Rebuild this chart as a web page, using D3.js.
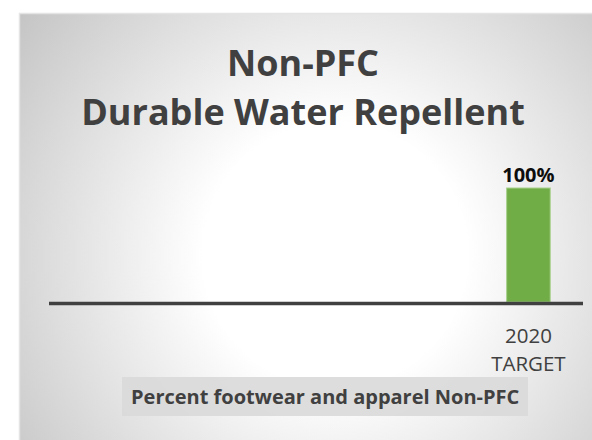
<!DOCTYPE html>
<html>
<head>
<meta charset="utf-8">
<script src="https://cdn.jsdelivr.net/npm/d3@7"></script>
<style>
  html, body { margin: 0; padding: 0; background: #fff; }
  svg { display: block; font-family: "Open Sans", "Noto Sans", sans-serif; }
</style>
</head>
<body>
<svg id="chart"></svg>
<script>
// data
const categories = ['2015', '2016', '2017', '2018', '2019', '2020 TARGET'];
const values     = [null, null, null, null, null, 100];
const tickLabels = [[], [], [], [], [], ['2020', 'TARGET']];
const titleLines = ['Non-PFC', 'Durable Water Repellent'];
const legendText = 'Percent footwear and apparel Non-PFC';

const width = 592, height = 440;

const svg = d3.select('#chart')
  .attr('width', width)
  .attr('height', height);

// background panel with radial gradient
const defs = svg.append('defs');
const grad = defs.append('radialGradient')
  .attr('id', 'bg')
  .attr('gradientUnits', 'userSpaceOnUse')
  .attr('cx', 335).attr('cy', 255).attr('r', 400);
grad.append('stop').attr('offset', '0').attr('stop-color', '#ffffff');
grad.append('stop').attr('offset', '0.33').attr('stop-color', '#ffffff');
grad.append('stop').attr('offset', '1').attr('stop-color', '#c4c4c4');

svg.append('rect')
  .attr('x', 19).attr('y', 13)
  .attr('width', width).attr('height', height)
  .attr('fill', 'url(#bg)');

// thin edge lines along top and left of panel
svg.append('path')
  .attr('d', `M19.5,${height}V13.5H${width}`)
  .attr('fill', 'none')
  .attr('stroke', '#e4e4e4')
  .attr('stroke-width', 1.5);

// title
svg.append('g').selectAll('text')
  .data(titleLines)
  .join('text')
  .attr('x', 303)
  .attr('y', (d, i) => 76 + i * 49)
  .attr('text-anchor', 'middle')
  .attr('font-size', 36)
  .attr('font-weight', 700)
  .attr('fill', '#404040')
  .text(d => d);

// scales
const x = d3.scaleBand()
  .domain(categories)
  .range([49, 572])
  .paddingInner(0.5)
  .paddingOuter(0.25);

const y = d3.scaleLinear()
  .domain([0, 100])
  .range([302, 188]);

const data = categories.map((c, i) => ({ cat: c, value: values[i], label: tickLabels[i] }));
const shown = data.filter(d => d.value != null);

// bars
svg.append('g').selectAll('rect')
  .data(shown)
  .join('rect')
  .attr('x', d => x(d.cat))
  .attr('y', d => y(d.value))
  .attr('width', x.bandwidth())
  .attr('height', d => y(0) - y(d.value))
  .attr('fill', '#70ad47')
  .attr('stroke', '#a9d18e')
  .attr('stroke-width', 1);

// value labels
svg.append('g').selectAll('text')
  .data(shown)
  .join('text')
  .attr('x', d => x(d.cat) + x.bandwidth() / 2)
  .attr('y', d => y(d.value) - 6)
  .attr('text-anchor', 'middle')
  .attr('font-size', 20)
  .attr('font-weight', 700)
  .attr('fill', '#0d0d0d')
  .text(d => d.value + '%');

// x axis
const xAxisG = svg.append('g')
  .attr('transform', `translate(0,${y(0)})`)
  .call(d3.axisBottom(x).tickSize(0).tickFormat(''));
xAxisG.select('.domain').remove();

xAxisG.append('line')
  .attr('x1', x.range()[0]).attr('x2', x.range()[1] + 11)
  .attr('y1', 1.5).attr('y2', 1.5)
  .attr('stroke', '#404040')
  .attr('stroke-width', 3.5);

xAxisG.selectAll('.tick text')
  .data(data)
  .attr('font-size', 20.5)
  .attr('fill', '#404040')
  .attr('font-family', '"Open Sans", sans-serif')
  .attr('y', 0)
  .attr('dy', null)
  .selectAll('tspan')
  .data(d => d.label)
  .join('tspan')
  .attr('x', 0)
  .attr('y', (d, i) => 41 + i * 28)
  .text(d => d);

// legend box
const legend = svg.append('g');
legend.append('rect')
  .attr('x', 122).attr('y', 377)
  .attr('width', 406).attr('height', 39)
  .attr('fill', '#d9d9d9')
  .attr('fill-opacity', 0.9);
legend.append('text')
  .attr('x', 131).attr('y', 404)
  .attr('font-size', 20)
  .attr('font-weight', 700)
  .attr('fill', '#404040')
  .text(legendText);
</script>
</body>
</html>
